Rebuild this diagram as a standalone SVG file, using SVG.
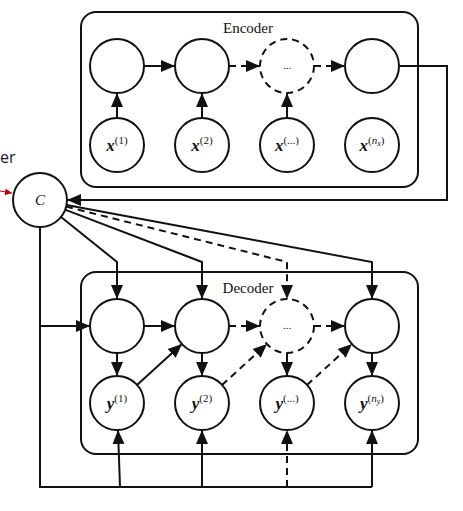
<svg xmlns="http://www.w3.org/2000/svg" width="463" height="511" viewBox="0 0 463 511">
<style>
.box{fill:none;stroke:#111;stroke-width:2}
.nd{fill:#fff;stroke:#111;stroke-width:2}
.dnd{fill:#fff;stroke:#111;stroke-width:2;stroke-dasharray:7 5}
.ln{fill:none;stroke:#111;stroke-width:2}
.ar{fill:none;stroke:#111;stroke-width:2;marker-end:url(#ah)}
.da{stroke-dasharray:7 5}
.lbl{font-family:"Liberation Serif",serif;font-size:15px;fill:#111;text-anchor:middle}
.mx{font-family:"Liberation Serif",serif;font-size:17px;font-weight:bold;font-style:italic;fill:#111;text-anchor:middle}
.sup{font-size:11px;font-weight:normal;font-style:normal}
</style>
<defs>
<marker id="ah" markerUnits="userSpaceOnUse" markerWidth="16" markerHeight="14" refX="14" refY="7" orient="auto">
<path d="M0,1 L14,7 L0,13 Z" fill="#111"/>
</marker>
<marker id="rah" markerUnits="userSpaceOnUse" markerWidth="8" markerHeight="8" refX="7" refY="4" orient="auto">
<path d="M0,0.5 L7,4 L0,7.5 Z" fill="#c00000"/>
</marker>
</defs>

<g id="encoder-box"><rect class="box" x="81" y="12" width="337" height="175" rx="15"/><text class="lbl" x="248" y="33">Encoder</text></g>
<g id="decoder-box"><rect class="box" x="81" y="272" width="337" height="182" rx="15"/><text class="lbl" x="248" y="293">Decoder</text></g>

<g id="connectors">
<line class="ar" x1="144" y1="66" x2="175" y2="66"/>
<line class="ar da" x1="229" y1="66" x2="260" y2="66"/>
<line class="ar da" x1="314" y1="66" x2="345" y2="66"/>
<line class="ar" x1="117" y1="118" x2="117" y2="93"/>
<line class="ar" x1="202" y1="118" x2="202" y2="93"/>
<line class="ar" x1="287" y1="118" x2="287" y2="93"/>
<polyline class="ar" points="399,66 447,66 447,200 67,200"/>
<polyline class="ar" points="61,217 117,262 117,299"/>
<polyline class="ar" points="65,209.6 202,262 202,299"/>
<polyline class="ar da" points="66,206.6 287,262 287,299"/>
<polyline class="ar" points="66.5,205 372,262 372,299"/>
<line class="ar" x1="144" y1="326" x2="175" y2="326"/>
<line class="ar da" x1="229" y1="326" x2="260" y2="326"/>
<line class="ar da" x1="314" y1="326" x2="345" y2="326"/>
<line class="ar" x1="117" y1="353" x2="117" y2="376"/>
<line class="ar" x1="202" y1="353" x2="202" y2="376"/>
<line class="ar" x1="287" y1="353" x2="287" y2="376"/>
<line class="ar" x1="372" y1="353" x2="372" y2="376"/>
<line class="ar" x1="137" y1="385" x2="182" y2="344"/>
<line class="ar da" x1="222" y1="385" x2="267" y2="344"/>
<line class="ar da" x1="307" y1="385" x2="352" y2="344"/>
<polyline class="ln" points="40,227 40,487 372,487"/>
<line class="ar" x1="40" y1="326" x2="90" y2="326"/>
<line class="ar" x1="120" y1="487" x2="118" y2="430"/>
<line class="ar" x1="202" y1="487" x2="202" y2="430"/>
<line class="ar da" x1="287" y1="487" x2="287" y2="430"/>
<line class="ar" x1="372" y1="487" x2="372" y2="430"/>
<line x1="0" y1="191" x2="12" y2="193" stroke="#c00000" stroke-width="1.2" marker-end="url(#rah)"/>
</g>

<g id="enc-h1"><circle class="nd" cx="117" cy="66" r="27"/></g>
<g id="enc-h2"><circle class="nd" cx="202" cy="66" r="27"/></g>
<g id="enc-h3"><circle class="dnd" cx="287" cy="66" r="27"/><text class="lbl" x="287" y="69" style="font-size:11px">...</text></g>
<g id="enc-h4"><circle class="nd" cx="372" cy="66" r="27"/></g>

<g id="x1"><circle class="nd" cx="117" cy="145" r="27"/><text class="mx" x="117" y="151">x<tspan class="sup" dy="-7">(1)</tspan></text></g>
<g id="x2"><circle class="nd" cx="202" cy="145" r="27"/><text class="mx" x="202" y="151">x<tspan class="sup" dy="-7">(2)</tspan></text></g>
<g id="x3"><circle class="nd" cx="287" cy="145" r="27"/><text class="mx" x="287" y="151">x<tspan class="sup" dy="-7">(...)</tspan></text></g>
<g id="x4"><circle class="nd" cx="372" cy="145" r="27"/><text class="mx" x="372" y="151">x<tspan class="sup" dy="-7">(<tspan font-style="italic">n</tspan><tspan font-style="italic" font-size="8px" dy="2">x</tspan><tspan dy="-2">)</tspan></tspan></text></g>

<g id="C"><circle class="nd" cx="40" cy="200" r="27"/><text class="lbl" x="40" y="205" font-style="italic">C</text></g>
<g id="fragment"><text x="0" y="163" font-family="Open Sans, sans-serif" font-size="16" fill="#1a1a2a">er</text></g>

<g id="dec-h1"><circle class="nd" cx="117" cy="326" r="27"/></g>
<g id="dec-h2"><circle class="nd" cx="202" cy="326" r="27"/></g>
<g id="dec-h3"><circle class="dnd" cx="287" cy="326" r="27"/><text class="lbl" x="287" y="329" style="font-size:11px">...</text></g>
<g id="dec-h4"><circle class="nd" cx="372" cy="326" r="27"/></g>

<g id="y1"><circle class="nd" cx="117" cy="403" r="27"/><text class="mx" x="117" y="409">y<tspan class="sup" dy="-7">(1)</tspan></text></g>
<g id="y2"><circle class="nd" cx="202" cy="403" r="27"/><text class="mx" x="202" y="409">y<tspan class="sup" dy="-7">(2)</tspan></text></g>
<g id="y3"><circle class="nd" cx="287" cy="403" r="27"/><text class="mx" x="287" y="409">y<tspan class="sup" dy="-7">(...)</tspan></text></g>
<g id="y4"><circle class="nd" cx="372" cy="403" r="27"/><text class="mx" x="372" y="409">y<tspan class="sup" dy="-7">(<tspan font-style="italic">n</tspan><tspan font-style="italic" font-size="8px" dy="2">y</tspan><tspan dy="-2">)</tspan></tspan></text></g>
</svg>
